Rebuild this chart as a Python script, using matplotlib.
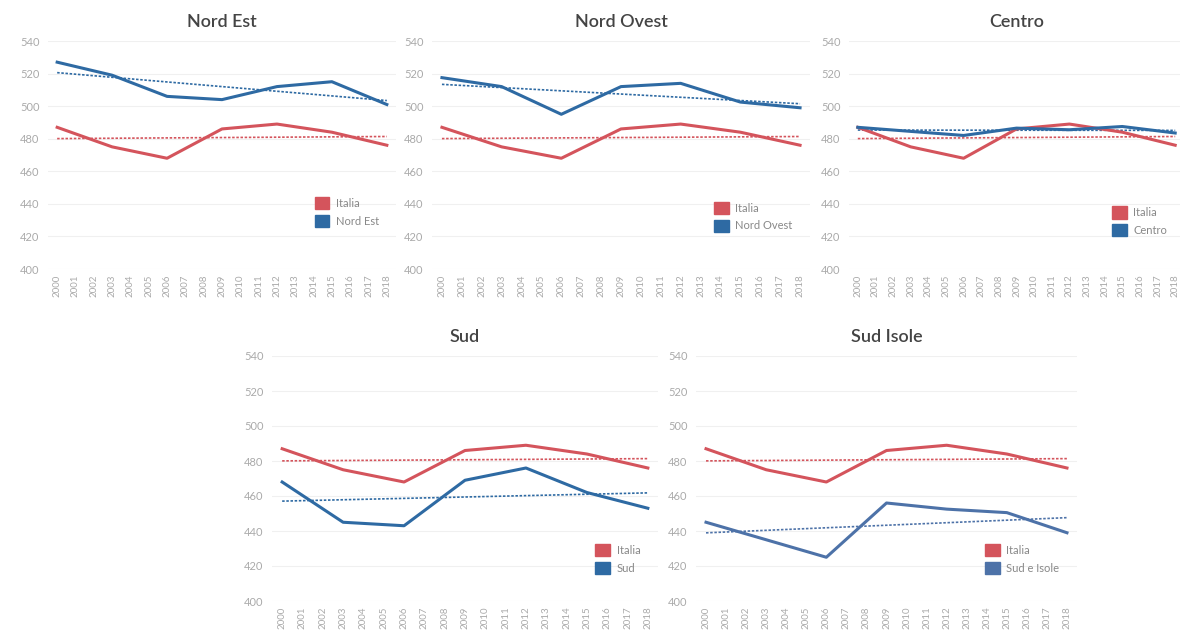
import numpy as np
import matplotlib.pyplot as plt
from matplotlib.patches import Patch

plt.rcParams['font.family'] = ['Lato', 'DejaVu Sans']

years = [2000, 2003, 2006, 2009, 2012, 2015, 2018]
all_years = list(range(2000, 2019))

italia = [487, 475, 468, 486, 489, 484, 476]
nord_est = [527, 519, 506, 504, 512, 515, 501]
nord_ovest = [517.5, 512, 495, 512, 514, 502.5, 499]
centro = [487, 484.5, 482, 486.5, 485.5, 487.5, 483.5]
sud = [468, 445, 443, 469, 476, 462, 453]
sud_isole = [445, 435, 425, 456, 452.5, 450.5, 439]

panels = [
    ("Nord Est", "Nord Est", nord_est, '#2e6aa3', [48, 41, 348, 228], 0.14),
    ("Nord Ovest", "Nord Ovest", nord_ovest, '#2e6aa3', [432, 41, 378, 228], 0.12),
    ("Centro", "Centro", centro, '#2e6aa3', [849, 41, 335, 228], 0.10),
    ("Sud", "Sud", sud, '#2e6aa3', [272, 356, 386, 245], 0.07),
    ("Sud Isole", "Sud e Isole", sud_isole, '#4d72a8', [696, 356, 381, 245], 0.07),
]

red = '#d4545c'
W, H = 1180, 636
fig = plt.figure(figsize=(11.8, 6.36), dpi=100)

for title, label, vals, blue, (x0, y0, w, h), leg_y in panels:
    ax = fig.add_axes([x0 / W, 1 - (y0 + h) / H, w / W, h / H])
    for series, col in [(italia, red), (vals, blue)]:
        ax.plot(years, series, color=col, lw=2.2, zorder=3)
        k, b = np.polyfit(years, series, 1)
        tx = np.array([2000, 2018])
        ax.plot(tx, k * tx + b, color=col, lw=1.2, ls=(0, (1.5, 1)), zorder=2)
    ax.set_xlim(1999.5, 2018.5)
    ax.set_ylim(400, 540)
    ax.set_yticks(range(400, 541, 20))
    ax.set_xticks(all_years)
    ax.set_xticklabels([str(y) for y in all_years], rotation=90)
    ax.tick_params(axis='x', labelsize=7, colors='#aaaaaa', length=0, pad=4)
    ax.tick_params(axis='y', labelsize=8, colors='#aaaaaa', length=0, pad=6)
    ax.grid(axis='y', color='#f0f0f0', lw=0.8)
    for s in ax.spines.values():
        s.set_visible(False)
    ax.set_title(title, fontsize=13, color='#444444', pad=10, fontweight='semibold')
    handles = [Patch(color=red, label='Italia'), Patch(color=blue, label=label)]
    ax.legend(handles=handles, loc='lower right', bbox_to_anchor=(0.98, leg_y),
              frameon=False, fontsize=8, labelcolor='#888888',
              handlelength=1.3, handleheight=1.3, handletextpad=0.6,
              labelspacing=0.5)

fig.savefig('out.png', dpi=100, facecolor='white')
